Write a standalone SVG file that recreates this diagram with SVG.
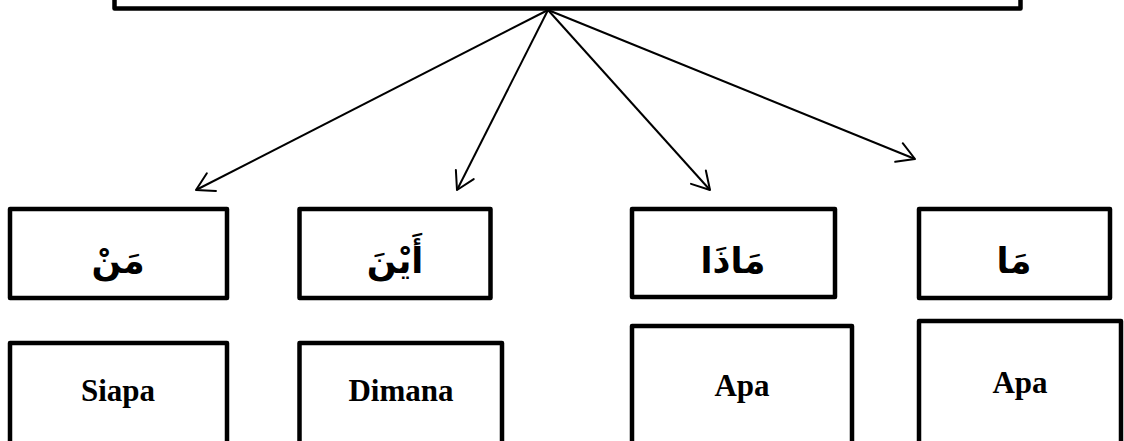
<svg xmlns="http://www.w3.org/2000/svg" width="1124" height="441" viewBox="0 0 1124 441">
<style>
.box{fill:#fff;stroke:#000;stroke-width:4.5;stroke-linejoin:round}
.ar{font-family:"Liberation Serif","DejaVu Sans",serif;font-size:35px;font-weight:bold;fill:#000;text-anchor:middle}
.lt{font-family:"Liberation Serif","Times New Roman",serif;font-size:31px;font-weight:bold;fill:#000;text-anchor:middle}
.conn line{stroke:#000;stroke-width:2;fill:none}
</style>
<defs>
<marker id="arr" markerUnits="userSpaceOnUse" markerWidth="30" markerHeight="30" refX="0" refY="0" viewBox="-25 -15 30 30" orient="auto" overflow="visible">
<path d="M-17.3,-10 L0,0 L-17.3,10" fill="none" stroke="#000" stroke-width="2" stroke-linecap="round" stroke-linejoin="round"/>
</marker>
</defs>
<rect width="1124" height="441" fill="#fff"/>
<g id="top"><rect class="box" x="114.5" y="-50" width="906" height="58.5"/></g>
<g class="conn" id="connectors">
<line x1="548" y1="10" x2="196" y2="190" marker-end="url(#arr)"/>
<line x1="548" y1="10" x2="457" y2="190" marker-end="url(#arr)"/>
<line x1="548" y1="10" x2="710" y2="190" marker-end="url(#arr)"/>
<line x1="548" y1="10" x2="915" y2="159" marker-end="url(#arr)"/>
</g>
<g id="man"><rect class="box" x="10" y="209" width="217" height="89"/><text class="ar" x="118" y="273" direction="rtl">مَنْ</text></g>
<g id="aina"><rect class="box" x="299.5" y="209" width="191" height="89"/><text class="ar" x="395" y="273" direction="rtl">أَيْنَ</text></g>
<g id="madza"><rect class="box" x="632" y="209" width="203" height="88"/><text class="ar" x="733" y="273" direction="rtl">مَاذَا</text></g>
<g id="ma"><rect class="box" x="919" y="209" width="191" height="89"/><text class="ar" x="1014" y="273" direction="rtl">مَا</text></g>
<g id="siapa"><rect class="box" x="10" y="343" width="217" height="120"/><text class="lt" x="118" y="401">Siapa</text></g>
<g id="dimana"><rect class="box" x="299.5" y="343" width="202.5" height="120"/><text class="lt" x="401" y="401">Dimana</text></g>
<g id="apa1"><rect class="box" x="632" y="326" width="220" height="140"/><text class="lt" x="742" y="396">Apa</text></g>
<g id="apa2"><rect class="box" x="919" y="321" width="202" height="140"/><text class="lt" x="1020" y="393">Apa</text></g>
</svg>
